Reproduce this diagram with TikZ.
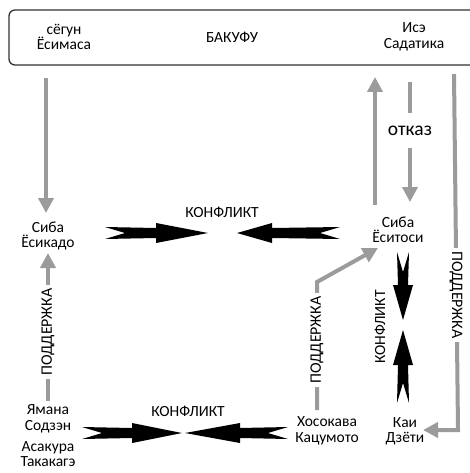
\documentclass[tikz,border=0pt]{standalone}
\usepackage{fontspec}
\setmainfont{Carlito}
\usetikzlibrary{arrows.meta}
\definecolor{supgray}{RGB}{155,155,155}
\begin{document}
\begin{tikzpicture}[x=1pt,y=-1pt,
  lbl/.style={align=center,font=\fontsize{15.5}{15.5}\selectfont,inner sep=1pt},
  sup/.style={draw=supgray,line width=4pt},
  suparr/.style={sup,-{Triangle[length=15pt,width=15pt]}},
  vtext/.style={font=\fontsize{16}{16}\selectfont,fill=white,inner xsep=3pt,inner ysep=1pt},
  pics/fletch/.style 2 args={code={\fill[black] (0,-6) -- (20,0) -- (0,6) -- ({#1-#2},5) -- ({#1-#2},10) -- (#1,0) -- ({#1-#2},-10) -- ({#1-#2},-5) -- cycle;}}
]
\useasboundingbox (0,0) rectangle (470,473);
\clip (0,0) rectangle (470,473);
\draw[line width=1.3pt,draw=black!80,rounded corners=6pt] (9,10) rectangle (495,65);

\node[lbl] (shogun) at (64,37) {сёгун\\Ёсимаса};
\node[lbl] (bakufu) at (232,37) {БАКУФУ};
\node[lbl] (ise) at (414,37) {Исэ\\Садатика};
\node[lbl] (yoshikado) at (48,236) {Сиба\\Ёсикадо};
\node[lbl] (yoshitoshi) at (398,230) {Сиба\\Ёситоси};
\node[lbl] (yamana) at (48,419) {Ямана\\Содзэн};
\node[lbl] (asakura) at (48,454) {Асакура\\Такакагэ};
\node[lbl] (hosokawa) at (327,431) {Хосокава\\Кацумото};
\node[lbl] (kai) at (405,431) {Каи\\Дзёти};

% shogun -> Yoshikado
\coordinate (s1) at (46,78); \coordinate (e1) at (46,213);
\draw[suparr] (s1) -- (e1);
% Yamana support -> Yoshikado
\coordinate (s2) at (48,401); \coordinate (e2) at (48,253);
\draw[suparr] (s2) -- (e2);
\node[vtext,rotate=90] (sup1) at (48,332) {ПОДДЕРЖКА};
% Hosokawa support -> Yoshitoshi
\coordinate (s3) at (317,410); \coordinate (c3) at (317,282); \coordinate (e3) at (378,248);
\draw[suparr] (s3) -- (c3) -- (e3);
\node[vtext,rotate=90] (sup2) at (317,340) {ПОДДЕРЖКА};
% Yoshitoshi -> Ise
\coordinate (s4) at (375,205); \coordinate (e4) at (375,77);
\draw[suparr] (s4) -- (e4);
% refusal
\coordinate (s5) at (410,82); \coordinate (m5) at (410,113);
\coordinate (n5) at (410,148); \coordinate (e5) at (410,202);
\draw[sup] (s5) -- (m5);
\draw[suparr] (n5) -- (e5);
\node[font=\fontsize{19.5}{20}\selectfont,inner sep=1pt] (otkaz) at (410,131) {отказ};
% Ise support -> Kai
\coordinate (s6) at (454,74); \coordinate (c6) at (458,430); \coordinate (e6) at (423,430);
\draw[suparr] (s6) -- (c6) -- (e6);
\node[vtext,rotate=-90] (sup3) at (456,295) {ПОДДЕРЖКА};

% conflicts
\node[lbl] (conf1) at (222,212) {КОНФЛИКТ};
\pic at (105,233) {fletch={103}{52}};
\pic[rotate=180] at (340,233) {fletch={103}{35}};
\node[lbl] (conf2) at (188,411) {КОНФЛИКТ};
\pic at (82,433) {fletch={100}{50}};
\pic[rotate=180] at (288,433) {fletch={103}{55}};
\node[lbl,rotate=90] (conf3) at (380,327) {КОНФЛИКТ};
\pic[rotate=-90] at (403,252) {fletch={68}{35}};
\pic[rotate=90] at (403,403) {fletch={73}{35}};
\end{tikzpicture}
\end{document}
